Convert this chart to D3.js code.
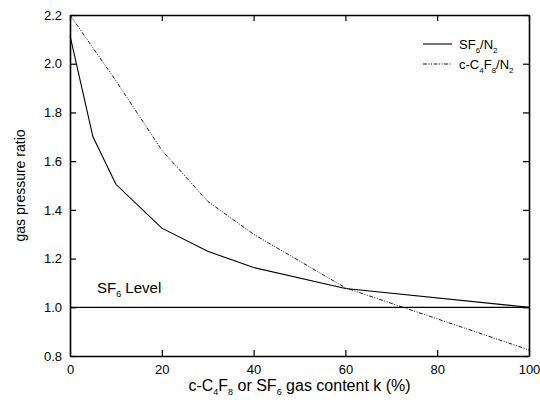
<!DOCTYPE html>
<html><head><meta charset="utf-8">
<script src="https://cdn.jsdelivr.net/npm/d3@7"></script>
<style>body{margin:0;background:#fff;} text{font-family:"Liberation Sans",Arial,sans-serif;fill:#000;}</style>
</head><body><svg id="c" width="540" height="406"></svg>
<script>
const kValues = [0, 5, 10, 20, 30, 40, 60, 100];
const sf6Ratio = [2.115, 1.70, 1.505, 1.325, 1.23, 1.163, 1.077, 1.0];
const c4f8K = [0, 10, 20, 30, 40, 60, 100];
const c4f8Ratio = [2.2, 1.93, 1.645, 1.435, 1.30, 1.08, 0.825];
const sf6Level = 1.0;
const xTicks = [0, 20, 40, 60, 80, 100];
const yTicks = [0.8, 1.0, 1.2, 1.4, 1.6, 1.8, 2.0, 2.2];

const svg = d3.select("#c");
const L = 70, R = 529, T = 15, B = 356;
const x = d3.scaleLinear().domain([0, 100]).range([L, R]);
const y = d3.scaleLinear().domain([0.8, 2.2]).range([B, T]);
const tl = 6;

svg.append("g").attr("transform", `translate(0,${B})`)
  .call(d3.axisBottom(x).tickValues(xTicks).tickSizeInner(-tl).tickSizeOuter(0).tickPadding(9).tickFormat(d3.format("d")));
svg.append("g").attr("transform", `translate(0,${T})`)
  .call(d3.axisTop(x).tickValues(xTicks).tickSizeInner(-tl).tickSizeOuter(0).tickFormat(""));
svg.append("g").attr("transform", `translate(${L},0)`)
  .call(d3.axisLeft(y).tickValues(yTicks).tickSizeInner(-tl).tickSizeOuter(0).tickPadding(8).tickFormat(d3.format(".1f")));
svg.append("g").attr("transform", `translate(${R},0)`)
  .call(d3.axisRight(y).tickValues(yTicks).tickSizeInner(-tl).tickSizeOuter(0).tickFormat(""));
svg.selectAll(".domain").attr("stroke", "#000").attr("stroke-width", 1.6);
svg.selectAll(".tick line").attr("stroke", "#000").attr("stroke-width", 1.2);
svg.selectAll(".tick text").style("font-size", "13px").style("font-family", "Liberation Sans, Arial, sans-serif");

svg.append("line").attr("x1", x(0)).attr("x2", x(100)).attr("y1", y(sf6Level)).attr("y2", y(sf6Level))
  .attr("stroke", "#000").attr("stroke-width", 1.2);

const line = d3.line().x(d => x(d[0])).y(d => y(d[1]));
svg.append("path").datum(kValues.map((k, i) => [k, sf6Ratio[i]])).attr("d", line)
  .attr("fill", "none").attr("stroke", "#000").attr("stroke-width", 1.1);
svg.append("path").datum(c4f8K.map((k, i) => [k, c4f8Ratio[i]])).attr("d", line)
  .attr("fill", "none").attr("stroke", "#000").attr("stroke-width", 0.9)
  .attr("stroke-dasharray", "4,1.5,1,1.5,1,1.5");

function sub(t, parts, subSize) {
  parts.forEach(p => {
    const s = t.append("tspan").text(p[0]);
    if (p[1]) s.attr("font-size", subSize).attr("dy", 4); else s.attr("dy", p[2] || 0);
  });
}

const lg = svg.append("g");
lg.append("line").attr("x1", 423).attr("x2", 452).attr("y1", 44).attr("y2", 44).attr("stroke", "#000").attr("stroke-width", 1.1);
lg.append("line").attr("x1", 423).attr("x2", 452).attr("y1", 64).attr("y2", 64).attr("stroke", "#000").attr("stroke-width", 0.9)
  .attr("stroke-dasharray", "4,1.5,1,1.5,1,1.5");
let t1 = lg.append("text").attr("x", 459).attr("y", 49).style("font-size", "13px");
sub(t1, [["SF"], ["6", true], ["/N", false, -4], ["2", true]], "8px");
let t2 = lg.append("text").attr("x", 459).attr("y", 69).style("font-size", "13px");
sub(t2, [["c-C"], ["4", true], ["F", false, -4], ["8", true], ["/N", false, -4], ["2", true]], "8px");

let t3 = svg.append("text").attr("x", 97).attr("y", 293).style("font-size", "15px");
sub(t3, [["SF"], ["6", true], [" Level", false, -4]], "9px");

let xt = svg.append("text").attr("x", (L + R) / 2).attr("y", 391).attr("text-anchor", "middle").style("font-size", "16px");
sub(xt, [["c-C"], ["4", true], ["F", false, -4], ["8", true], [" or SF", false, -4], ["6", true], [" gas content k (%)", false, -4]], "9px");
svg.append("text").attr("transform", `translate(25,${(T + B) / 2}) rotate(-90)`).attr("text-anchor", "middle")
  .style("font-size", "14px").text("gas pressure ratio");
</script></body></html>
